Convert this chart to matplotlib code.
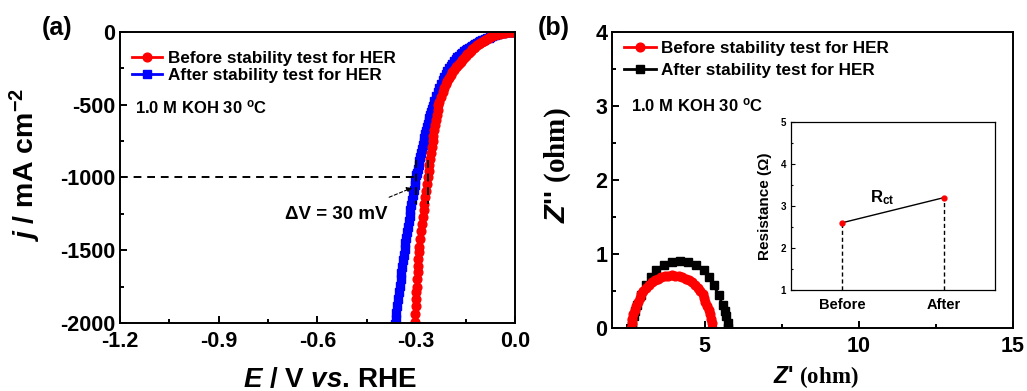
import matplotlib
matplotlib.use('Agg')
import matplotlib.pyplot as plt
from matplotlib.ticker import MultipleLocator

plt.rcParams['font.family'] = ['Liberation Sans', 'DejaVu Sans']
plt.rcParams['font.weight'] = 'bold'
plt.rcParams['axes.labelweight'] = 'bold'
plt.rcParams['mathtext.fontset'] = 'custom'
plt.rcParams['mathtext.rm'] = 'Liberation Sans:bold'
plt.rcParams['mathtext.it'] = 'Liberation Sans:italic:bold'
plt.rcParams['mathtext.bf'] = 'Liberation Serif:bold'

# (a) LSV polarisation curves, E in V vs RHE, j in mA cm-2
e_before = [0.000, -0.005, -0.010, -0.015, -0.020, -0.025, -0.030, -0.035, -0.040, -0.045,
            -0.050, -0.055, -0.060, -0.065, -0.070, -0.075, -0.080, -0.085, -0.090, -0.095,
            -0.100, -0.105, -0.110, -0.115, -0.120, -0.125, -0.130, -0.135, -0.140, -0.145,
            -0.150, -0.155, -0.160, -0.165, -0.170, -0.175, -0.180, -0.185, -0.190, -0.195,
            -0.200, -0.205, -0.210, -0.215, -0.220, -0.225, -0.230, -0.2325, -0.235, -0.2375,
            -0.240, -0.2425, -0.245, -0.2475, -0.250, -0.2525, -0.255, -0.2575, -0.260, -0.2625,
            -0.265, -0.2675, -0.270, -0.2725, -0.275, -0.2775, -0.280, -0.2825, -0.285, -0.2875,
            -0.290, -0.2915, -0.293, -0.2945, -0.296, -0.2975, -0.299, -0.300, -0.301, -0.302,
            -0.303, -0.304, -0.3045]
j_before = [0, 0, -1, -1.5, -2, -3.5, -5, -7, -9, -11,
            -14, -17, -20, -24, -28, -34, -40, -46, -53, -60,
            -67, -75, -83, -92, -101, -110, -120, -130, -141, -153,
            -166, -180, -194, -208, -220, -231, -243, -258, -275, -294,
            -314, -336, -360, -386, -414, -444, -478, -505, -537, -570,
            -605, -640, -676, -712, -750, -790, -830, -872, -914, -957,
            -1000, -1045, -1090, -1135, -1180, -1225, -1270, -1320, -1370, -1425,
            -1480, -1515, -1560, -1605, -1650, -1700, -1750, -1790, -1835, -1880,
            -1935, -1990, -2010]

e_after = [0.000, -0.005, -0.010, -0.015, -0.020, -0.025, -0.030, -0.035, -0.040, -0.045,
           -0.050, -0.055, -0.060, -0.065, -0.070, -0.075, -0.080, -0.085, -0.090, -0.095,
           -0.100, -0.105, -0.110, -0.115, -0.120, -0.125, -0.130, -0.135, -0.140, -0.145,
           -0.150, -0.155, -0.160, -0.165, -0.170, -0.175, -0.180, -0.185, -0.190, -0.195,
           -0.200, -0.205, -0.210, -0.215, -0.220, -0.225, -0.230, -0.235, -0.240, -0.245,
           -0.250, -0.2525, -0.255, -0.2575, -0.260, -0.2625, -0.265, -0.2675, -0.270, -0.2725,
           -0.275, -0.2775, -0.280, -0.2825, -0.285, -0.2875, -0.290, -0.2925, -0.295, -0.2975,
           -0.300, -0.3025, -0.305, -0.3075, -0.310, -0.3125, -0.315, -0.3175, -0.320, -0.3225,
           -0.325, -0.3275, -0.330, -0.3325, -0.335, -0.3375, -0.340, -0.3425, -0.345, -0.3475,
           -0.350, -0.3525, -0.355, -0.3575, -0.360, -0.3625, -0.364]
j_after = [0, 0, -0.5, -1, -1.5, -2.5, -3.5, -5, -7, -9,
           -12, -15, -19, -23, -28, -33, -38, -43, -48, -53,
           -58, -64, -70, -77, -84, -91, -98, -105, -112, -118,
           -125, -133, -142, -152, -163, -175, -188, -202, -217, -232,
           -248, -266, -286, -308, -332, -357, -384, -413, -443, -476,
           -512, -530, -550, -570, -590, -612, -634, -656, -680, -704,
           -728, -753, -779, -805, -832, -860, -888, -916, -944, -972,
           -985, -1015, -1050, -1085, -1120, -1155, -1190, -1225, -1262, -1300,
           -1338, -1376, -1414, -1453, -1490, -1530, -1570, -1612, -1655, -1700,
           -1745, -1790, -1835, -1880, -1928, -1975, -2010]

# (b) Nyquist plots, ohm
zre_before = [2.630, 2.640, 2.660, 2.695, 2.740, 2.790, 2.850, 2.915, 2.937, 3.014,
              3.098, 3.189, 3.285, 3.386, 3.492, 3.601, 3.713, 3.826, 3.940,
              4.054, 4.167, 4.279, 4.388, 4.494, 4.595, 4.691, 4.782, 4.866, 4.943,
              4.975, 5.030, 5.085, 5.140, 5.185, 5.220, 5.240, 5.250]
zim_before = [0.000, 0.062, 0.123, 0.184, 0.243, 0.300, 0.355, 0.407, 0.456, 0.502,
              0.544, 0.582, 0.615, 0.643, 0.667, 0.686, 0.699, 0.707, 0.710,
              0.707, 0.699, 0.686, 0.667, 0.643, 0.615, 0.582, 0.544, 0.502, 0.456,
              0.407, 0.355, 0.300, 0.243, 0.184, 0.123, 0.062, 0.000]
zre_after = [2.640, 2.660, 2.705, 2.760, 2.825, 2.955, 3.115, 3.255, 3.435, 3.675,
             3.935, 4.205, 4.475, 4.735, 4.975, 5.155, 5.295, 5.455, 5.585, 5.650,
             5.705, 5.745, 5.770]
zim_after = [0.000, 0.070, 0.156, 0.230, 0.308, 0.450, 0.579, 0.689, 0.779, 0.846,
             0.886, 0.900, 0.886, 0.846, 0.779, 0.689, 0.579, 0.450, 0.308, 0.230,
             0.156, 0.070, 0.000]

# inset: charge transfer resistance
states = ['Before', 'After']
state_x = [1, 2]
rct = [2.6, 3.2]

fig = plt.figure(figsize=(10.27, 3.91), dpi=100)
ax1 = fig.add_axes([0.1168, 0.1739, 0.3846, 0.7443])
ax2 = fig.add_axes([0.5959, 0.1611, 0.3905, 0.7571])


def style_axes(ax, lw=1.4, size=15.5):
    for s in ax.spines.values():
        s.set_linewidth(lw)
    ax.tick_params(which='both', direction='in', top=False, right=False,
                   width=lw, labelsize=size)
    ax.tick_params(which='major', length=5)
    ax.tick_params(which='minor', length=3)


# ---- (a)
ha, = ax1.plot(e_after, j_after, '-s', color='blue', lw=2, ms=5.5, mec='blue',
               label='After stability test for HER')
hb, = ax1.plot(e_before, j_before, '-o', color='red', lw=2, ms=6.3, mec='red',
               label='Before stability test for HER')
ax1.plot([-1.2, -0.302], [-1000, -1000], color='black', lw=1.4, dashes=(4, 3))
ax1.plot([-0.302, -0.302], [-880, -1180], color='black', lw=1.4, dashes=(4, 3))
ax1.plot([-0.265, -0.265], [-880, -1180], color='black', lw=1.4, dashes=(4, 3))
ax1.annotate('', xy=(-0.304, -1063), xytext=(-0.39, -1143),
             arrowprops=dict(arrowstyle='-|>', color='black', lw=0.8,
                             linestyle=(0, (3, 2)), mutation_scale=8))
ax1.text(-0.543, -1251, 'ΔV = 30 mV', fontsize=13.5, ha='center', va='center')
ax1.text(0.038, 0.742, '1.0 M KOH 30 $^{\\rm o}$C', transform=ax1.transAxes,
         fontsize=12, va='center')
ax1.set_xlim(-1.2, 0.0)
ax1.set_ylim(-2000, 0)
ax1.xaxis.set_minor_locator(MultipleLocator(0.15))
ax1.yaxis.set_minor_locator(MultipleLocator(250))
ax1.set_xticks([-1.2, -0.9, -0.6, -0.3, 0.0])
ax1.set_xticklabels(['-1.2', '-0.9', '-0.6', '-0.3', '0.0'])
ax1.set_yticks([-2000, -1500, -1000, -500, 0])
ax1.set_yticklabels(['-2000', '-1500', '-1000', '-500', '0'])
style_axes(ax1)
ax1.tick_params(axis='x', pad=6)
ax1.set_xlabel('$\\mathit{E}$ / V $\\mathit{vs}$. RHE', fontsize=20)
ax1.set_ylabel('$\\mathit{j}$ / mA cm$^{-2}$', fontsize=20.5)
ax1.xaxis.set_label_coords(0.532, -0.15)
ax1.yaxis.set_label_coords(-0.195, 0.543)
ax1.legend(handles=[hb, ha], loc='upper left', bbox_to_anchor=(0.03, 0.935),
           frameon=False, fontsize=12.3, handlelength=1.75, handletextpad=0.35,
           labelspacing=0.15, borderaxespad=0, borderpad=0, numpoints=1)

# ---- (b)
hb2a, = ax2.plot(zre_after, zim_after, '-s', color='black', lw=2, ms=5.3,
                 label='After stability test for HER')
hb2b, = ax2.plot(zre_before, zim_before, '-o', color='red', lw=2, ms=6.3,
                 label='Before stability test for HER')
ax2.text(0.047, 0.753, '1.0 M KOH 30 $^{\\rm o}$C', transform=ax2.transAxes,
         fontsize=12, va='center')
ax2.set_xlim(2, 15)
ax2.set_ylim(0, 4)
ax2.set_xticks([5, 10, 15])
ax2.xaxis.set_minor_locator(MultipleLocator(2.5))
ax2.yaxis.set_major_locator(MultipleLocator(1))
ax2.yaxis.set_minor_locator(MultipleLocator(0.5))
style_axes(ax2)
ax2.tick_params(axis='x', pad=6)
ax2.set_xlabel("$\\mathit{Z}$' $\\mathbf{(ohm)}$", fontsize=16.5)
ax2.set_ylabel("$\\mathit{Z}$'' $\\mathbf{(ohm)}$", fontsize=21)
ax2.xaxis.set_label_coords(0.509, -0.122)
ax2.yaxis.set_label_coords(-0.097, 0.55)
ax2.legend(handles=[hb2b, hb2a], loc='upper left', bbox_to_anchor=(0.03, 0.97),
           frameon=False, fontsize=12.3, handlelength=1.85, handletextpad=0.3,
           labelspacing=0.42, borderaxespad=0, borderpad=0, numpoints=1)

# ---- inset
ax3 = fig.add_axes([0.7702, 0.2583, 0.1986, 0.4297])
ax3.plot(state_x, rct, '-', color='black', lw=1)
ax3.plot(state_x, rct, 'o', color='red', ms=3.5, zorder=3)
ax3.vlines(state_x, 1, rct, colors='black', lw=1, linestyles=(0, (3, 2)))
ax3.text(1.39, 3.21, '$\\mathregular{R_{ct}}$', fontsize=12, ha='center', va='center')
ax3.set_xlim(0.5, 2.5)
ax3.set_ylim(1, 5)
ax3.set_xticks(state_x)
ax3.set_xticklabels(states, fontsize=10.5)
ax3.yaxis.set_major_locator(MultipleLocator(1))
ax3.yaxis.set_minor_locator(MultipleLocator(0.5))
for s in ax3.spines.values():
    s.set_linewidth(0.9)
ax3.tick_params(axis='y', which='both', direction='in', labelsize=7, width=0.8)
ax3.tick_params(axis='y', which='major', length=3)
ax3.tick_params(axis='y', which='minor', length=1.5)
ax3.tick_params(axis='x', length=0, pad=6)
ax3.set_ylabel('Resistance (Ω)', fontsize=11, labelpad=6)

fig.text(42 / 1027, 1 - 28 / 391, '(a)', fontsize=18, va='center', ha='left')
fig.text(538 / 1027, 1 - 28 / 391, '(b)', fontsize=18, va='center', ha='left')

fig.savefig('out.png', dpi=100)
